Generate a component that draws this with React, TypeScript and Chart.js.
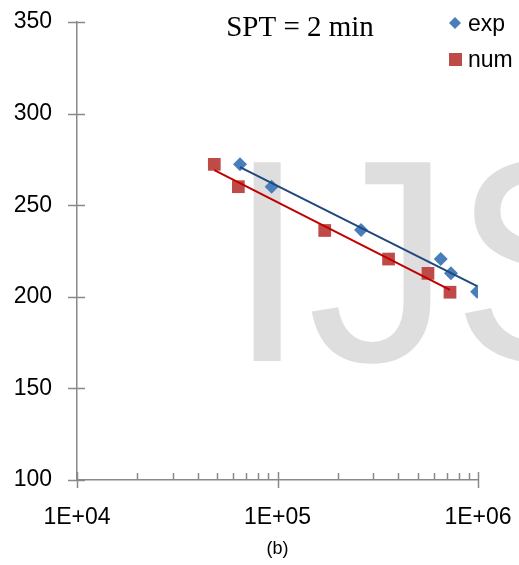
import React, { useEffect, useRef } from "react";
import { Chart, registerables } from "chart.js";
Chart.register(...registerables);

const expX = [65000, 93500, 261000, 652000, 733000, 990000];
const expY = [272.3, 260.1, 236.5, 220.6, 212.8, 202.8];
const numX = [48400, 63800, 172000, 358000, 563000, 725000];
const numY = [272.3, 260.1, 236.2, 220.6, 212.8, 202.5];
const seriesNames = ["exp", "num"];
const yTickValues = [100, 150, 200, 250, 300, 350];
const xTickValues = [1e4, 1e5, 1e6];
const titleText = "SPT = 2 min";
const captionText = "(b)";
const watermarkText = "IJS";

const BLUE = "#4a7ebb";
const RED = "#be4b48";
const BLUE_LINE = "#1f497d";
const RED_LINE = "#c00000";
const AXIS = "#898989";
const FONT = "'Liberation Sans', Arial, sans-serif";

function logFit(xs: number[], ys: number[]) {
  const lx = xs.map((v) => Math.log10(v));
  const n = lx.length;
  const mx = lx.reduce((a, b) => a + b, 0) / n;
  const my = ys.reduce((a, b) => a + b, 0) / n;
  let sxy = 0, sxx = 0;
  for (let i = 0; i < n; i++) {
    sxy += (lx[i] - mx) * (ys[i] - my);
    sxx += (lx[i] - mx) * (lx[i] - mx);
  }
  const b = sxy / sxx;
  const a = my - b * mx;
  const x0 = Math.min(...xs), x1 = Math.max(...xs);
  return [
    { x: x0, y: a + b * Math.log10(x0) },
    { x: x1, y: a + b * Math.log10(x1) },
  ];
}

const decor = {
  id: "decor",
  beforeDatasetsDraw(chart: any) {
    const ctx = chart.ctx;
    ctx.save();
    ctx.fillStyle = "#dedede";
    ctx.font = `289px ${FONT}`;
    ctx.textAlign = "left";
    ctx.textBaseline = "alphabetic";
    ctx.fillText(watermarkText, 227, 361);
    ctx.restore();
  },
  afterDraw(chart: any) {
    const ctx = chart.ctx;
    const xs = chart.scales.x;
    const ys = chart.scales.y;
    const axisX = xs.getPixelForValue(1e4);
    const axisY = ys.getPixelForValue(100);
    ctx.save();
    ctx.strokeStyle = AXIS;
    ctx.lineWidth = 1.5;
    yTickValues.forEach((v) => {
      const py = Math.round(ys.getPixelForValue(v)) + 0.5;
      ctx.beginPath();
      ctx.moveTo(axisX - 9, py);
      ctx.lineTo(axisX + 8, py);
      ctx.stroke();
    });
    xTickValues.forEach((v) => {
      const px = Math.round(xs.getPixelForValue(v)) + 0.5;
      ctx.beginPath();
      ctx.moveTo(px, axisY - 8);
      ctx.lineTo(px, axisY + 8);
      ctx.stroke();
    });
    for (let d = 0; d < xTickValues.length - 1; d++) {
      for (let m = 2; m <= 9; m++) {
        const px = Math.round(xs.getPixelForValue(xTickValues[d] * m)) + 0.5;
        ctx.beginPath();
        ctx.moveTo(px, axisY - 7);
        ctx.lineTo(px, axisY);
        ctx.stroke();
      }
    }
    ctx.fillStyle = "#000";
    ctx.font = "29px 'Liberation Serif', 'Times New Roman', serif";
    ctx.textAlign = "center";
    ctx.textBaseline = "alphabetic";
    ctx.fillText(titleText, 300, 36);
    ctx.font = `23px ${FONT}`;
    ctx.textAlign = "left";
    ctx.textBaseline = "middle";
    ctx.fillStyle = BLUE;
    ctx.beginPath();
    ctx.moveTo(455, 17);
    ctx.lineTo(461, 23);
    ctx.lineTo(455, 29);
    ctx.lineTo(449, 23);
    ctx.closePath();
    ctx.fill();
    ctx.fillStyle = "#000";
    ctx.fillText(seriesNames[0], 468, 25);
    ctx.fillStyle = RED;
    ctx.fillRect(449, 53, 13, 13);
    ctx.fillStyle = "#000";
    ctx.fillText(seriesNames[1], 468, 61);
    ctx.restore();
  },
};

export default function App() {
  const ref = useRef<HTMLCanvasElement>(null);
  useEffect(() => {
    if (!ref.current) return;
    const chart = new Chart(ref.current, {
      type: "scatter",
      data: {
        datasets: [
          {
            label: seriesNames[0] + " trend",
            data: logFit(expX, expY),
            showLine: true,
            borderColor: BLUE_LINE,
            borderWidth: 2,
            pointRadius: 0,
          },
          {
            label: seriesNames[1] + " trend",
            data: logFit(numX, numY),
            showLine: true,
            borderColor: RED_LINE,
            borderWidth: 2,
            pointRadius: 0,
          },
          {
            label: seriesNames[0],
            data: expX.map((x, i) => ({ x, y: expY[i] })),
            pointStyle: "rectRot",
            pointRadius: 7,
            backgroundColor: BLUE,
            borderColor: BLUE,
            borderWidth: 0,
          },
          {
            label: seriesNames[1],
            data: numX.map((x, i) => ({ x, y: numY[i] })),
            pointStyle: "rect",
            pointRadius: 9,
            backgroundColor: RED,
            borderColor: RED,
            borderWidth: 0,
          },
        ],
      },
      options: {
        animation: false,
        responsive: false,
        maintainAspectRatio: false,
        layout: { padding: { left: 0, top: 22, right: 41, bottom: 0 } },
        plugins: { legend: { display: false }, tooltip: { enabled: false } },
        scales: {
          x: {
            type: "logarithmic",
            min: 1e4,
            max: 1e6,
            afterBuildTicks: (s: any) => {
              s.ticks = xTickValues.map((v) => ({ value: v, major: true }));
            },
            afterFit: (s: any) => {
              s.height = 85;
              s.paddingLeft = 0;
              s.paddingRight = 0;
            },
            grid: { display: true, drawOnChartArea: false, drawTicks: false, color: "rgba(0,0,0,0)" },
            border: { display: true, color: AXIS, width: 1.5 },
            ticks: {
              padding: 24,
              color: "#000",
              font: { family: FONT, size: 23 },
              maxRotation: 0,
              autoSkip: false,
              callback: (v: any) => "1E+0" + Math.round(Math.log10(Number(v))),
            },
            title: {
              display: true,
              text: captionText,
              color: "#000",
              font: { family: FONT, size: 18 },
              padding: { top: 0, bottom: 5 },
            },
          },
          y: {
            min: 100,
            max: 350,
            afterBuildTicks: (s: any) => {
              s.ticks = yTickValues.map((v) => ({ value: v }));
            },
            afterFit: (s: any) => {
              s.width = 77;
              s.paddingTop = 0;
              s.paddingBottom = 0;
            },
            grid: { display: true, drawOnChartArea: false, drawTicks: false, color: "rgba(0,0,0,0)" },
            border: { display: true, color: AXIS, width: 1.5 },
            ticks: {
              padding: 25,
              color: "#000",
              font: { family: FONT, size: 23 },
            },
          },
        },
      },
      plugins: [decor],
    });
    return () => chart.destroy();
  }, []);
  return (
    <div style={{ position: "absolute", left: 0, top: 0, width: 519, height: 565 }}>
      <canvas ref={ref} width={519} height={565} style={{ width: 519, height: 565 }} />
    </div>
  );
}
